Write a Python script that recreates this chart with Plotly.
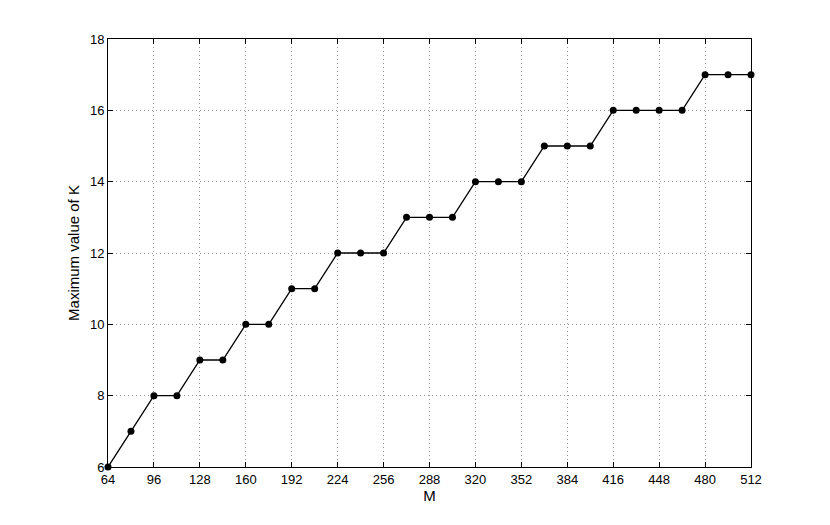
import plotly.graph_objects as go

m_values = [64, 80, 96, 112, 128, 144, 160, 176, 192, 208, 224, 240, 256, 272, 288,
            304, 320, 336, 352, 368, 384, 400, 416, 432, 448, 464, 480, 496, 512]
k_max = [6, 7, 8, 8, 9, 9, 10, 10, 11, 11, 12, 12, 12, 13, 13,
         13, 14, 14, 14, 15, 15, 15, 16, 16, 16, 16, 17, 17, 17]

x_ticks = [64, 96, 128, 160, 192, 224, 256, 288, 320, 352, 384, 416, 448, 480, 512]
y_ticks = [6, 8, 10, 12, 14, 16, 18]

fig = go.Figure(go.Scatter(
    x=m_values, y=k_max, mode="lines+markers",
    line=dict(color="black", width=1.3),
    marker=dict(color="black", size=7),
    cliponaxis=False,
))

axis_style = dict(
    showline=True, linecolor="black", linewidth=1, mirror="allticks",
    ticks="inside", ticklen=5, tickcolor="black",
    showgrid=True, gridcolor="#999999", griddash="1px,3px", gridwidth=1,
    zeroline=False, tickfont=dict(size=13, color="black"),
)

fig.update_xaxes(range=[64, 512], tickvals=x_ticks,
                 title=dict(text="M", font=dict(size=15, color="black"), standoff=2),
                 **axis_style)
fig.update_yaxes(range=[6, 18], tickvals=y_ticks,
                 title=dict(text="Maximum value of K", font=dict(size=15, color="black"), standoff=6),
                 **axis_style)

# page body adds an 8px offset, so margins are shifted to compensate
fig.update_layout(
    width=830, height=525,
    margin=dict(l=100, r=87, t=31, b=66),
    plot_bgcolor="white", paper_bgcolor="white",
    font=dict(family="Liberation Sans, Arial, sans-serif", color="black"),
    showlegend=False,
)

fig.write_html("out.html")
